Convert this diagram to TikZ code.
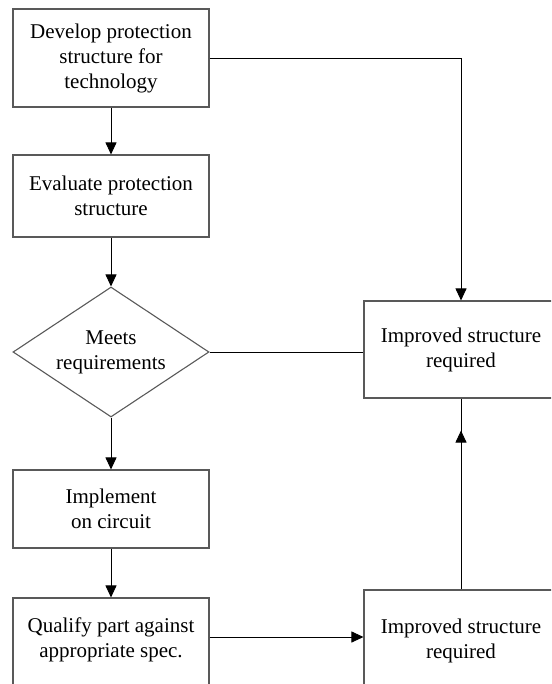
\documentclass[tikz,border=0pt]{standalone}
\usepackage{fontspec}
\setmainfont{Liberation Serif}
\usetikzlibrary{arrows.meta,shapes.geometric,decorations.markings}
\tikzset{
  txt/.style={font=\fontsize{21}{25}\selectfont, align=center, text=black},
  box/.style={draw=black!65, line width=1.1pt, rectangle, inner sep=0pt, minimum width=196pt, txt},
  rbox/.style={box, minimum width=194pt},
  dia/.style={draw=black!65, line width=1.1pt, diamond, aspect=1.5, inner sep=0pt, minimum width=196pt, minimum height=130pt, txt},
  conn/.style={draw=black, line width=0.9pt},
  arr/.style={conn, -{Triangle[length=12pt,width=11pt]}},
  midarr/.style={conn, postaction={decorate}, decoration={markings, mark=at position -32pt with {\arrow{Triangle[length=12pt,width=11pt]}}}}
}
\begin{document}
\begin{tikzpicture}[x=1pt,y=-1pt]
\useasboundingbox (0,0) rectangle (551,684);
\clip (0,0) rectangle (551,684);
\node[box, minimum height=98pt] (b1) at (111,58) {Develop protection\\structure for\\technology};
\node[box, minimum height=82pt] (b2) at (111,196) {Evaluate protection\\structure};
\node[dia] (d) at (111,352) {Meets\\requirements};
\node[box, minimum height=78pt] (b3) at (111,509) {Implement\\on circuit};
\node[box, minimum height=100pt, label={[txt, yshift=8pt]center:Qualify part against\\appropriate spec.}] (b4) at (111,648) {};
\node[rbox, minimum height=97pt] (r1) at (461,349.5) {Improved structure\\required};
\node[rbox, minimum height=102pt] (r2) at (461,641) {Improved structure\\required};
\coordinate (q) at (0,637);
\draw[arr] (b1.south) -- (b2.north);
\draw[arr] (b2.south) -- (d.north);
\draw[arr] (d.south) -- (b3.north);
\draw[arr] (b3.south) -- (b4.north);
\draw[arr] (b1.east) -| (r1.north);
\draw[conn] (d.east) -- (d.east -| r1.west);
\draw[arr] (b4.east |- q) -- (r2.west |- q);
\draw[midarr] (r2.north) -- (r1.south);
\end{tikzpicture}
\end{document}
